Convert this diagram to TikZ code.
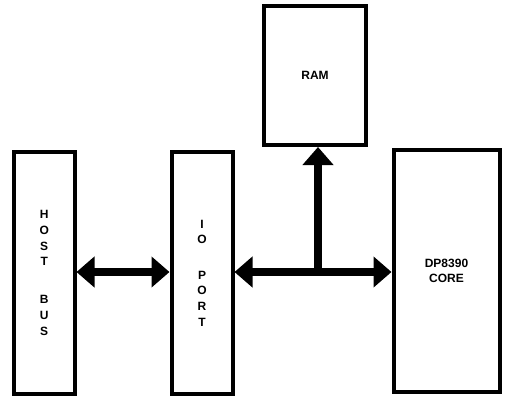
\documentclass[tikz,border=0pt]{standalone}
\usepackage{fontspec}
\newfontfamily\labfont{Liberation Sans}
\usetikzlibrary{arrows.meta}
\tikzset{
  block/.style={draw=black, line width=4pt, inner sep=0pt, align=center,
    font=\labfont\bfseries\fontsize{12}{15.7}\selectfont},
  busarrow/.style={line width=7.5pt, line cap=butt,
    -{Triangle[length=18pt,width=30pt]}},
  busarrows/.style={line width=7.5pt, line cap=butt,
    {Triangle[length=18pt,width=30pt]}-{Triangle[length=18pt,width=30pt]}}
}
\begin{document}
\begin{tikzpicture}[x=1pt,y=-1pt]
\useasboundingbox (0,0) rectangle (509,397);
\node[block, minimum width=60.5pt, minimum height=242pt] (host) at (44.25,273)
  {H\\O\\S\\T\\[22.3pt]B\\U\\S};
\node[block, minimum width=61pt, minimum height=242pt] (io) at (202,273)
  {I\\O\\[19.5pt]P\\O\\R\\T};
\node[block, minimum width=102pt, minimum height=139pt] (ram) at (315,75.5) {RAM};
\node[block, minimum width=106pt, minimum height=241.5pt] (dp) at (446.5,271)
  {DP8390\\CORE};
\coordinate (busy) at (0,272);
\coordinate (junction) at (318,272);
\draw[busarrows] (host.east |- busy) -- (io.west |- busy);
\draw[busarrows] (io.east |- busy) -- (dp.west |- busy);
\draw[busarrow] (junction) -- (junction |- ram.south);
\end{tikzpicture}
\end{document}
